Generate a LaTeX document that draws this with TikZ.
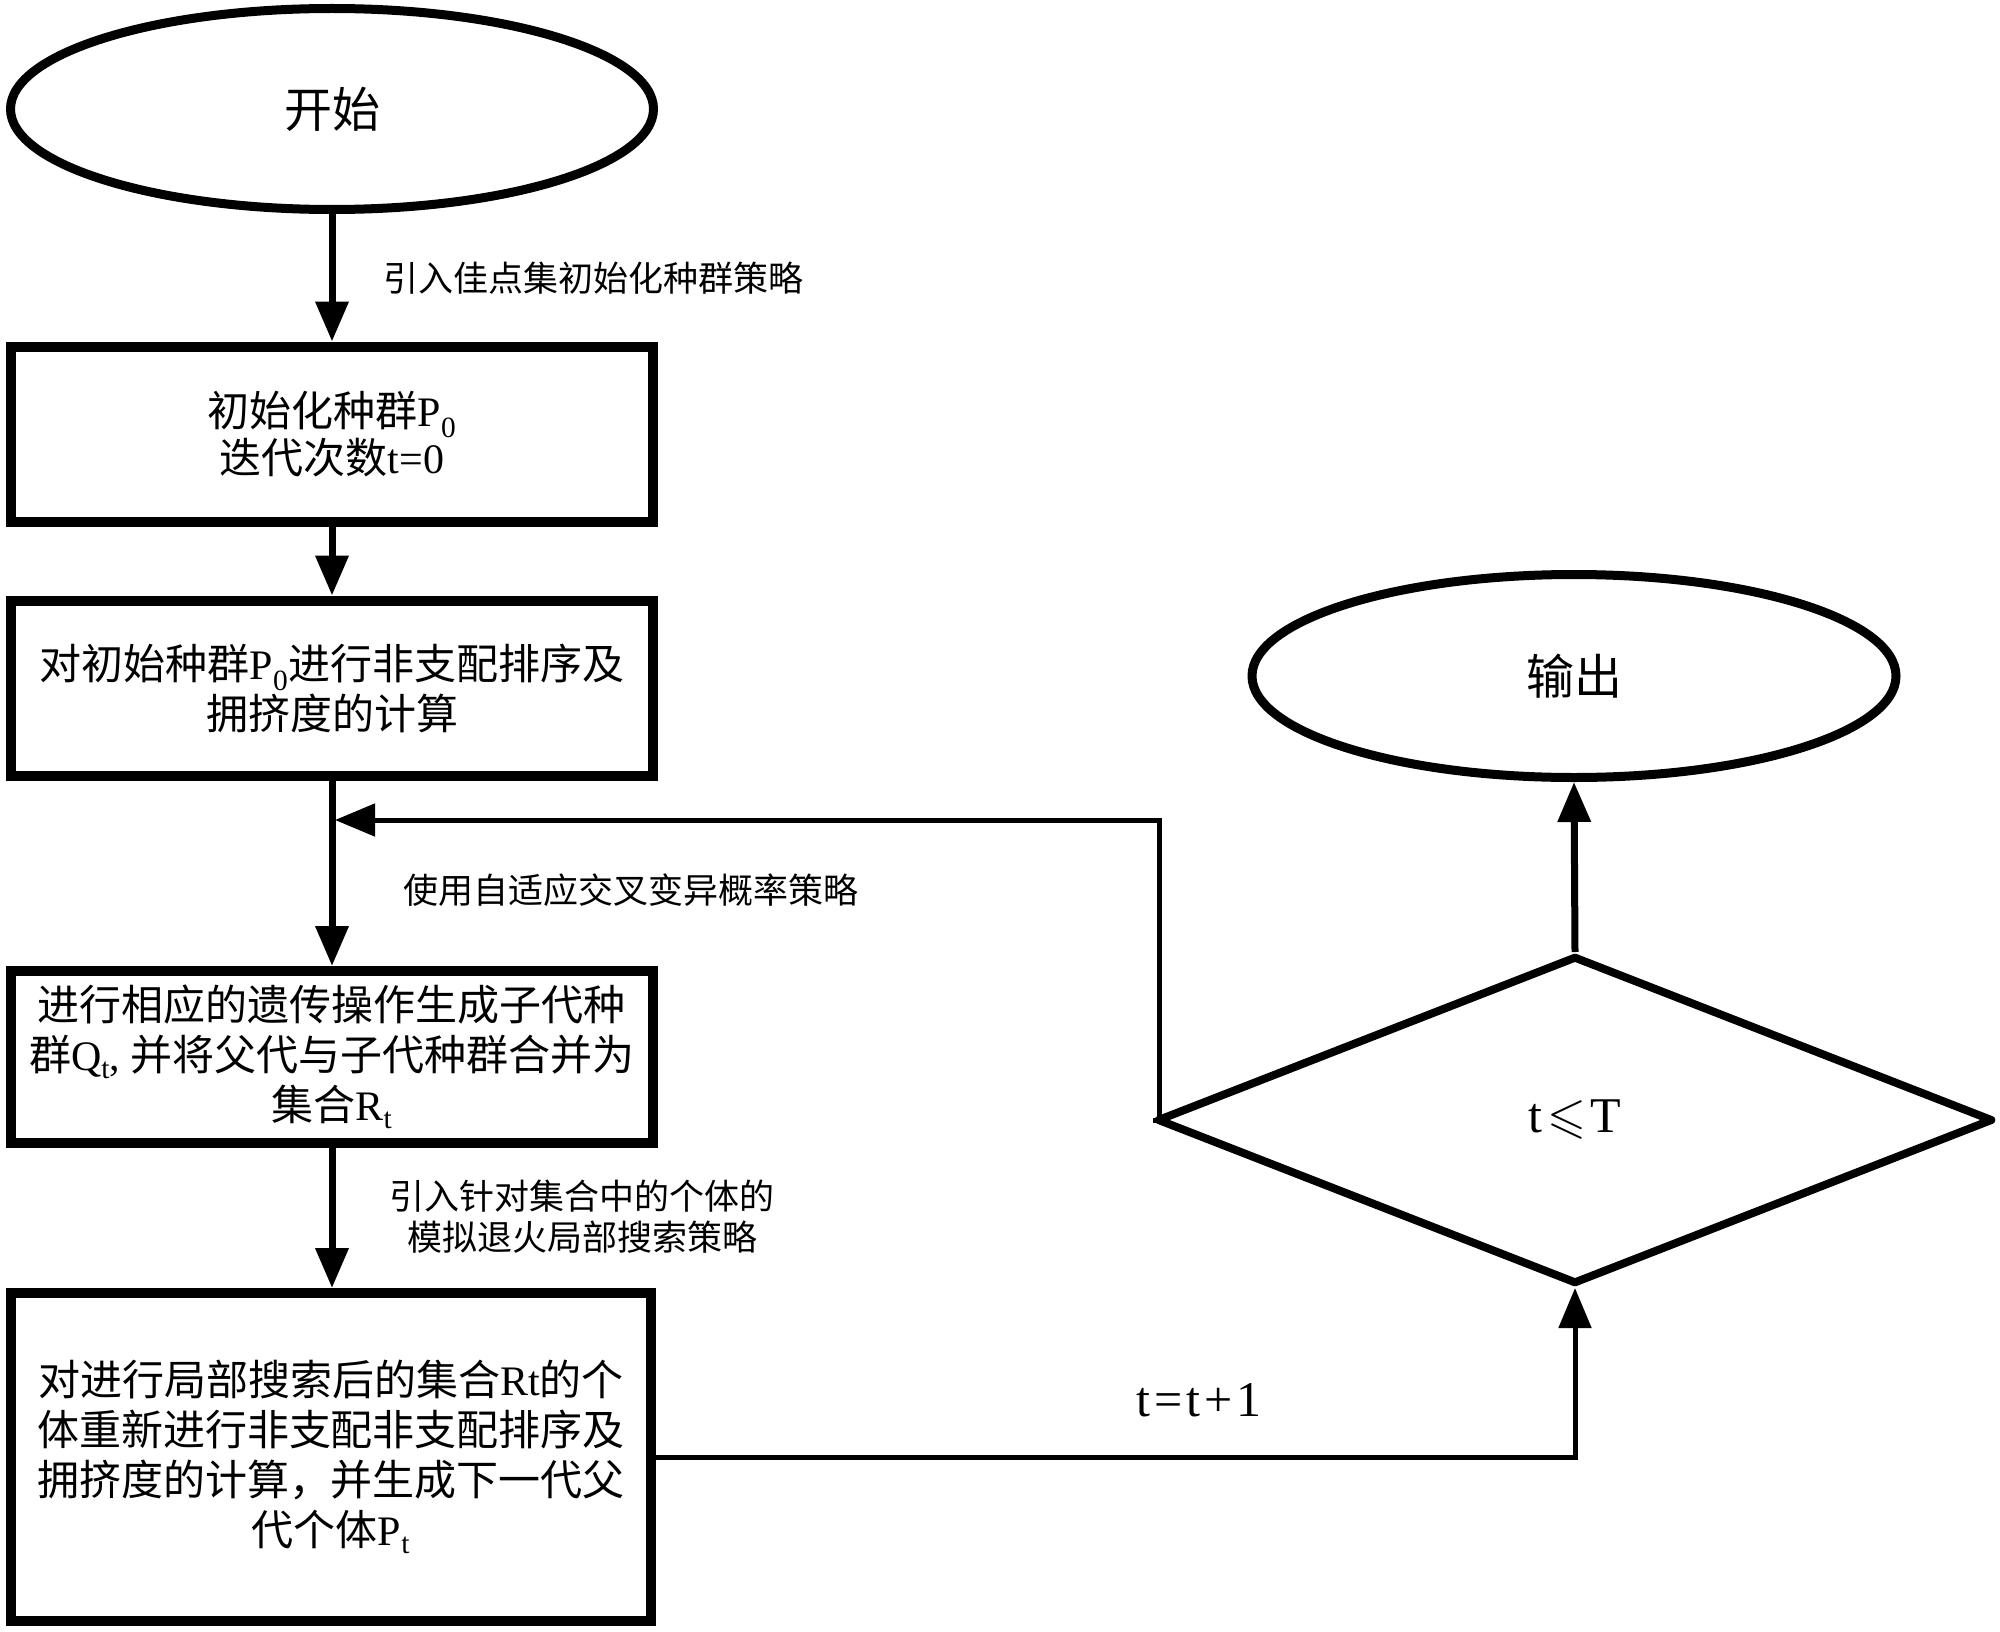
\documentclass[tikz,border=0pt]{standalone}
\usepackage{fontspec}
\usepackage{amssymb}
\setmainfont{Noto Sans CJK SC}
\newfontfamily\lat{Liberation Serif}
\newfontfamily\latw{Liberation Serif}[LetterSpace=8]
\usetikzlibrary{shapes.geometric,arrows.meta}
\newcommand{\LT}[1]{{\lat #1}}
\newcommand{\sbs}[1]{\textsubscript{\lat #1}}
\tikzset{
  boxst/.style={draw, rectangle, line width=10pt, minimum width=642pt, align=center},
  ell/.style={draw, ellipse, line width=9pt, inner sep=0pt},
  tipst/.style={-{Triangle[width=32pt,length=40pt]}},
  conn/.style={line width=7pt, tipst},
  thinline/.style={line width=5pt},
  lab/.style={inner sep=0pt, font=\fontsize{35}{41}\selectfont},
}
\begin{document}
\begin{tikzpicture}[x=1pt,y=-1pt]
\fill[white] (0,0) rectangle (2000,1632);
\useasboundingbox (0,0) rectangle (2000,1632);

\node[ell, minimum width=643pt, minimum height=201pt, font=\fontsize{48}{56}\selectfont] (start) at (332,109) {开始};
\node[boxst, minimum height=175pt, font=\fontsize{42}{47}\selectfont] (b1) at (332,434) {初始化种群\LT{P}\sbs{0}\\迭代次数\LT{t=0}};
\node[boxst, minimum height=175pt, font=\fontsize{42}{50}\selectfont] (b2) at (332,688) {对初始种群\LT{P}\sbs{0}进行非支配排序及\\拥挤度的计算};
\node[boxst, minimum height=172pt, font=\fontsize{42}{50}\selectfont] (b3) at (332,1057) {进行相应的遗传操作生成子代种\\群\LT{Q}\sbs{t}\LT{, }并将父代与子代种群合并为\\集合\LT{R}\sbs{t}};
\node[boxst, minimum width=640pt, minimum height=328pt, font=\fontsize{42}{50}\selectfont] (b4) at (331,1457) {对进行局部搜索后的集合\LT{Rt}的个\\体重新进行非支配非支配排序及\\拥挤度的计算，并生成下一代父\\代个体\LT{P}\sbs{t}};

\node[ell, minimum width=644pt, minimum height=203pt, font=\fontsize{48}{56}\selectfont] (out) at (1574,676) {输出};
\node[draw, diamond, line width=8pt, line join=round, minimum width=836pt, minimum height=328pt, inner sep=0pt, font=\fontsize{50}{54}\selectfont] (dia) at (1575,1120) {\LT{t}\hspace{5pt}$\leqslant$\hspace{4pt}\LT{T}};

\node[lab, anchor=west] (l1) at (383,278) {引入佳点集初始化种群策略};
\node[lab, anchor=west] (l2) at (403,890) {使用自适应交叉变异概率策略};
\node[lab, align=center] (l3) at (582,1217) {引入针对集合中的个体的\\模拟退火局部搜索策略};
\node[inner sep=0pt, font=\fontsize{50}{54}\selectfont] (l4) at (1199,1400) {{\latw t=t+1}};

\coordinate (junc) at (335,820);

\draw[conn] (start.south) -- (b1.north);
\draw[conn] (b1.south) -- (b2.north);
\draw[conn] (b2.south) -- (b3.north);
\draw[conn] (b3.south) -- (b3.south |- b4.north);
\draw[thinline, tipst] (dia.west) -- ++(6,0) |- (junc);
\draw[thinline, tipst] (b4.east) -| (dia.south);
\draw[conn] (dia.north) -- (out.south);
\end{tikzpicture}
\end{document}
